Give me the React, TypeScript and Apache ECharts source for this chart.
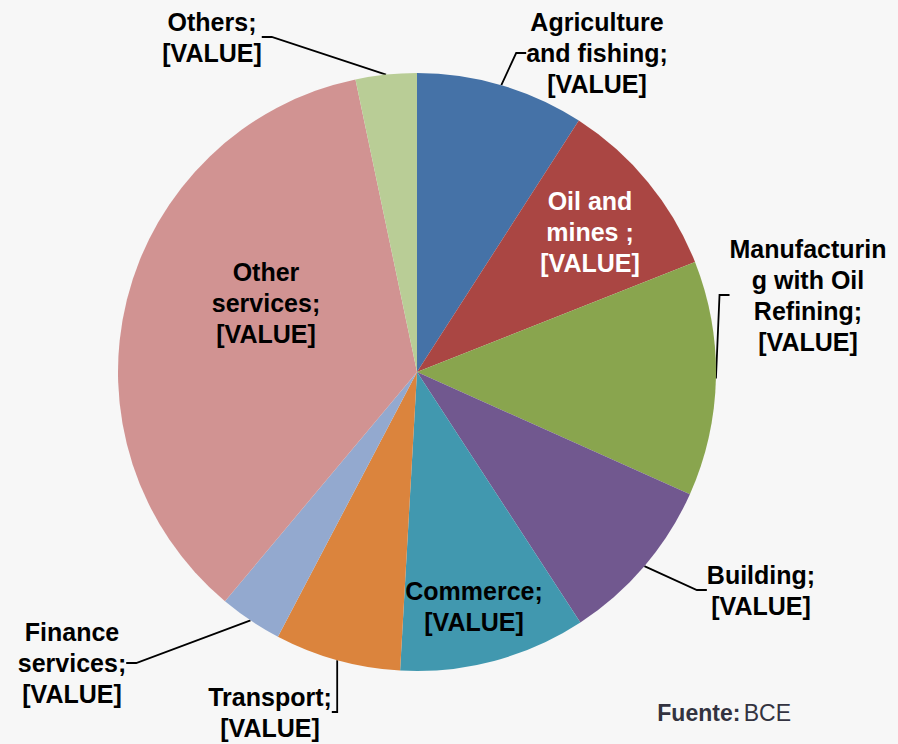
import React, { useEffect, useRef } from "react";
import * as echarts from "echarts";

const categories = [
  "Agriculture\nand fishing",
  "Oil and\nmines ",
  "Manufacturin\ng with Oil\nRefining",
  "Building",
  "Commerce",
  "Transport",
  "Finance\nservices",
  "Other\nservices",
  "Others",
];
const values = [9.1, 9.9, 12.7, 9.1, 10.1, 6.8, 3.4, 35.6, 3.3];
const colors = ["#4572A7", "#AA4643", "#89A54E", "#71588F", "#4198AF", "#DB843D", "#93A9CF", "#D19392", "#B9CD96"];
const valueLabel = "[VALUE]";

// label layout: [x, y, inside, textColor]
const labelPos: [number, number, boolean, string][] = [
  [597, 53, false, "#000"],
  [590, 232, true, "#fff"],
  [808, 295, false, "#000"],
  [761, 590, false, "#000"],
  [474, 606, true, "#000"],
  [270, 712, false, "#000"],
  [72, 663, false, "#000"],
  [266, 303, true, "#000"],
  [212, 37, false, "#000"],
];

export default function App() {
  const ref = useRef<HTMLDivElement>(null);
  useEffect(() => {
    document.body.style.margin = "0";
    const chart = echarts.init(ref.current!, null, { renderer: "svg" });
    chart.setOption({
      animation: false,
      backgroundColor: "#F7F7F7",
      series: [
        {
          type: "pie",
          center: [417, 372],
          radius: [0, 299],
          startAngle: 90,
          clockwise: true,
          avoidLabelOverlap: false,
          data: categories.map((c, i) => ({
            name: c,
            value: values[i],
            itemStyle: { color: colors[i] },
            label: {
              position: labelPos[i][2] ? "inside" : "outside",
              color: labelPos[i][3],
            },
            labelLine: { show: !labelPos[i][2] },
          })),
          label: {
            formatter: (p: any) => `${p.name};\n${valueLabel}`,
            fontFamily: "Liberation Sans, Arial, sans-serif",
            fontWeight: "bold",
            fontSize: 25,
            lineHeight: 31,
            align: "center",
          },
          labelLine: {
            show: true,
            length: 10,
            length2: 10,
            lineStyle: { color: "#000", width: 1.8 },
          },
          labelLayout: (p: any) => {
            const pos = labelPos[p.dataIndex];
            return { x: pos[0], y: pos[1], align: "center", verticalAlign: "middle" };
          },
        },
      ],
      graphic: [
        {
          type: "text",
          right: 107,
          top: 701,
          style: {
            rich: {
              b: { fontWeight: "bold", fontSize: 23, fill: "#333340", fontFamily: "Liberation Sans, Arial, sans-serif" },
              n: { fontSize: 23, fill: "#333340", fontFamily: "Liberation Sans, Arial, sans-serif" },
            },
            text: "{b|Fuente:} {n|BCE}",
          },
        },
      ],
    });
    return () => chart.dispose();
  }, []);
  return <div ref={ref} style={{ width: 898, height: 744 }} />;
}
